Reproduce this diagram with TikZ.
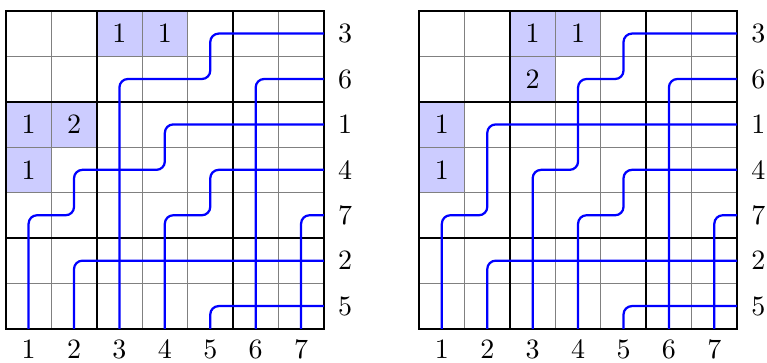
\documentclass[tikz,border=0pt]{standalone}
\usepackage{xcolor}
\definecolor{cellshade}{HTML}{CCCCFF}
\definecolor{wireblue}{HTML}{0000FF}
\usetikzlibrary{calc,positioning}

\begin{document}
\begin{tikzpicture}[x=0.57cm, y=0.57cm, font=\normalsize,
		wire/.style={wireblue, thick, rounded corners=3pt}]
	\useasboundingbox (-0.13,-0.75) rectangle (16.76,7.24);

	% shaded cells: column/row (from the top)/entry
	\foreach \c/\r/\v in {3/1/1,4/1/1,1/3/1,2/3/2,1/4/1} {
		\fill[cellshade] (\c-1,7-\r) rectangle ++(1,1);
		\node (lc\c\r) at (\c-0.5,7.5-\r) {\v};
	}
	\foreach \c/\r/\v in {3/1/1,4/1/1,3/2/2,1/3/1,1/4/1} {
		\fill[cellshade] (9.1+\c-1,7-\r) rectangle ++(1,1);
		\node (rc\c\r) at (9.1+\c-0.5,7.5-\r) {\v};
	}

	% the two grids with their labels
	\foreach \gx/\g in {0/l,9.1/r} {
		\begin{scope}[shift={(\gx,0)}]
			\foreach \i in {1,...,6} {
				\draw[gray, thin] (\i,0) -- (\i,7);
				\draw[gray, thin] (0,\i) -- (7,\i);
			}
			\draw[thick] (2,0) -- (2,7) (5,0) -- (5,7) (0,2) -- (7,2) (0,5) -- (7,5);
			\draw[thick] (0,0) rectangle (7,7);
			\foreach \c in {1,...,7}
				\node (\g bot\c) at (\c-0.5,-0.45) {\c};
			\foreach \v [count=\r] in {3,6,1,4,7,2,5}
				\node (\g side\r) at (7.47,7.5-\r) {\v};
		\end{scope}
	}

	% wires, left grid
	\draw[wire] (0.5,0) -- (0.5,2.5) -- (1.5,2.5) -- (1.5,3.5) -- (3.5,3.5) -- (3.5,4.5) -- (7,4.5);
	\draw[wire] (1.5,0) -- (1.5,1.5) -- (7,1.5);
	\draw[wire] (2.5,0) -- (2.5,5.5) -- (4.5,5.5) -- (4.5,6.5) -- (7,6.5);
	\draw[wire] (3.5,0) -- (3.5,2.5) -- (4.5,2.5) -- (4.5,3.5) -- (7,3.5);
	\draw[wire] (4.5,0) -- (4.5,0.5) -- (7,0.5);
	\draw[wire] (5.5,0) -- (5.5,5.5) -- (7,5.5);
	\draw[wire] (6.5,0) -- (6.5,2.5) -- (7,2.5);

	% wires, right grid
	\begin{scope}[shift={(9.1,0)}]
		\draw[wire] (0.5,0) -- (0.5,2.5) -- (1.5,2.5) -- (1.5,4.5) -- (7,4.5);
		\draw[wire] (1.5,0) -- (1.5,1.5) -- (7,1.5);
		\draw[wire] (2.5,0) -- (2.5,3.5) -- (3.5,3.5) -- (3.5,5.5) -- (4.5,5.5) -- (4.5,6.5) -- (7,6.5);
		\draw[wire] (3.5,0) -- (3.5,2.5) -- (4.5,2.5) -- (4.5,3.5) -- (7,3.5);
		\draw[wire] (4.5,0) -- (4.5,0.5) -- (7,0.5);
		\draw[wire] (5.5,0) -- (5.5,5.5) -- (7,5.5);
		\draw[wire] (6.5,0) -- (6.5,2.5) -- (7,2.5);
	\end{scope}
\end{tikzpicture}
\end{document}
